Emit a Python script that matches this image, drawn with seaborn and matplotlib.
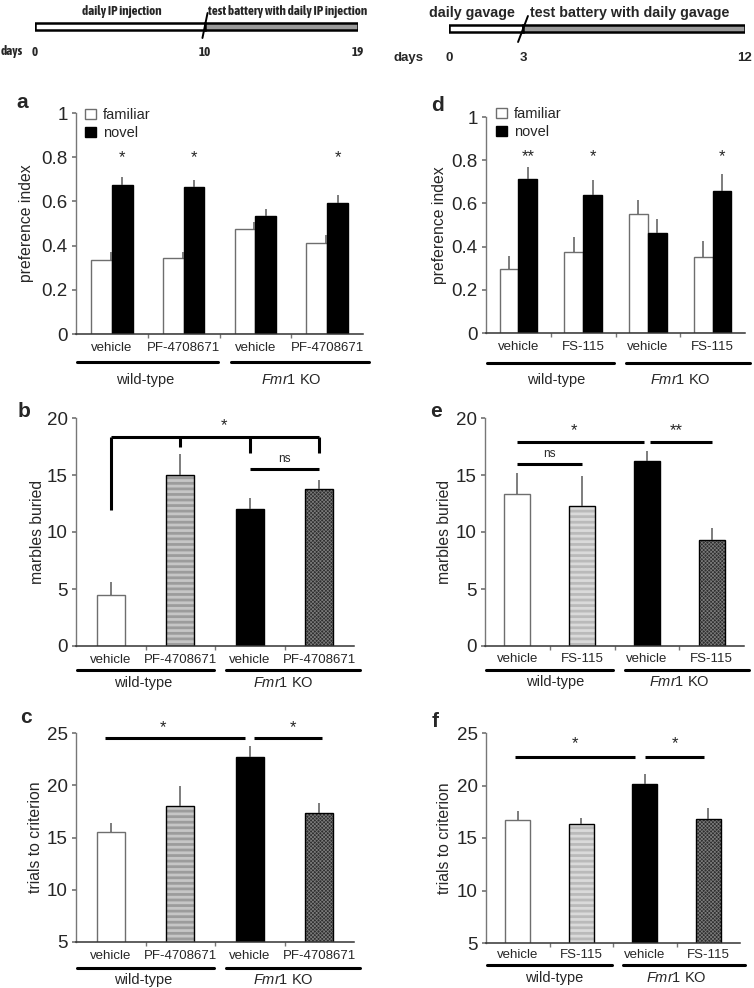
import numpy as np
import pandas as pd
import matplotlib
matplotlib.use('Agg')
import matplotlib.pyplot as plt
import seaborn as sns
from matplotlib.patches import Rectangle
from matplotlib import font_manager as fm

# Data
genotype = ['wild-type', 'wild-type', 'Fmr1 KO', 'Fmr1 KO']
treat_pf = ['vehicle', 'PF-4708671', 'vehicle', 'PF-4708671']
treat_fs = ['vehicle', 'FS-115', 'vehicle', 'FS-115']
objects = ['familiar', 'novel']

# a: novel object recognition (IP injection)
a_familiar = [0.334, 0.342, 0.473, 0.410]
a_familiar_sem = [0.038, 0.030, 0.033, 0.037]
a_novel = [0.673, 0.663, 0.533, 0.595]
a_novel_sem = [0.038, 0.033, 0.033, 0.036]
a_stars = ['*', '*', '', '*']

# d: novel object recognition (gavage)
d_familiar = [0.298, 0.374, 0.549, 0.352]
d_familiar_sem = [0.060, 0.072, 0.066, 0.074]
d_novel = [0.711, 0.637, 0.462, 0.658]
d_novel_sem = [0.058, 0.071, 0.066, 0.077]
d_stars = ['**', '*', '', '*']

# b / e: marble burying
b_marbles = [4.48, 15.0, 12.0, 13.8]
b_sem = [1.10, 1.80, 0.97, 0.78]
e_marbles = [13.37, 12.26, 16.23, 9.34]
e_sem = [1.81, 2.69, 0.85, 1.00]

# c / f: trials to criterion
c_trials = [15.53, 18.02, 22.66, 17.32]
c_sem = [0.89, 1.90, 1.12, 1.02]
f_trials = [16.71, 16.30, 20.19, 16.84]
f_sem = [0.85, 0.57, 0.95, 0.98]

# timelines
ip_days = [0, 10, 19]
gavage_days = [0, 3, 12]

W, H = 754, 988
sns.set_theme(style='ticks')
plt.rcParams['font.family'] = ['Liberation Sans', 'DejaVu Sans']
plt.rcParams['mathtext.fontset'] = 'custom'
plt.rcParams['mathtext.rm'] = 'Liberation Sans'
plt.rcParams['mathtext.it'] = 'Liberation Sans:italic'
plt.rcParams['hatch.linewidth'] = 0.8

fig = plt.figure(figsize=(W / 100, H / 100), dpi=100)
fig.patch.set_facecolor('white')

FMR = r'$\mathit{Fmr1}$ KO'


def add_ax(rect):
    l, t, r, b = rect
    return fig.add_axes([l / W, 1 - b / H, (r - l) / W, (b - t) / H])


def fx(rect, x):
    return (x - rect[0]) / (rect[2] - rect[0])


def fy(rect, y):
    return (rect[3] - y) / (rect[3] - rect[1])


def frame(ax, p):
    ax.add_patch(Rectangle(p.get_xy(), p.get_width(), p.get_height(), fill=False,
                           edgecolor='black', lw=1.0, zorder=p.get_zorder() + 0.1))


def style_bar(ax, p, kind, shade):
    if kind == 'white':
        p.set_facecolor('white'); p.set_edgecolor('#6e6e6e'); p.set_linewidth(1.0)
    elif kind == 'black':
        p.set_facecolor('black'); p.set_edgecolor('black'); p.set_linewidth(1.0)
    elif kind == 'stripe':
        p.set_facecolor(shade[0]); p.set_edgecolor(shade[1]); p.set_linewidth(0)
        p.set_hatch('---')
        if hasattr(p, 'set_hatch_linewidth'):
            p.set_hatch_linewidth(2.0)
        frame(ax, p)
    else:
        p.set_facecolor('#2e2e2e'); p.set_edgecolor('#7c7c7c'); p.set_linewidth(0)
        p.set_hatch('xxxxxxxxx')
        if hasattr(p, 'set_hatch_linewidth'):
            p.set_hatch_linewidth(0.5)
        frame(ax, p)


def style_axis(ax, rect, treats, ylim, yticks, ylabel, ylab_px, lab_off, line_off, grp_off, grp_x):
    ax.set_xlim(-0.5, 3.5)
    ax.set_ylim(*ylim)
    ax.set_yticks(yticks)
    ax.set_yticklabels([f'{t:g}' for t in yticks])
    ax.set_xticks(range(4))
    ax.set_xticklabels(treats, fontsize=9.5)
    ax.set_xticks([0.5, 1.5, 2.5], minor=True)
    ax.tick_params(axis='x', which='major', length=0, pad=lab_off)
    ax.tick_params(axis='x', which='minor', length=3, color='#777777', direction='out')
    ax.tick_params(axis='y', length=3, color='#777777', labelsize=13.5, pad=3)
    ax.set_xlabel('')
    ax.set_ylabel(ylabel, fontsize=11.3)
    ax.yaxis.set_label_coords(fx(rect, ylab_px), 0.5)
    sns.despine(ax=ax)
    ax.spines['left'].set_color('#777777')
    ax.spines['left'].set_linewidth(1.0)
    ax.spines['bottom'].set_color('#333333')
    ax.spines['bottom'].set_linewidth(1.1)
    ax.set_facecolor('none')
    yl = fy(rect, rect[3] + line_off)
    yg = fy(rect, rect[3] + grp_off)
    ax.plot([0.005, 0.495], [yl, yl], transform=ax.transAxes, clip_on=False, color='black', lw=2.2)
    ax.plot([0.54, 1.02], [yl, yl], transform=ax.transAxes, clip_on=False, color='black', lw=2.2)
    ax.text(grp_x[0], yg, 'wild-type', transform=ax.transAxes, ha='center', va='center', fontsize=10.5)
    ax.text(grp_x[1], yg, FMR, transform=ax.transAxes, ha='center', va='center', fontsize=10.5)


def errbars(ax, bars, vals, sem, shift=0.0):
    xs = [p.get_x() + p.get_width() / 2 + shift * p.get_width() for p in bars]
    ax.errorbar(xs, vals, yerr=[np.zeros(len(vals)), sem], fmt='none', ecolor='#5a5a5a',
                elinewidth=1.1, capsize=0, zorder=4)
    return xs


def paired_panel(rect, treats, fam, fam_sem, nov, nov_sem, stars, star_y, fam_shift, leg_px, **kw):
    ax = add_ax(rect)
    keys = [f'{g}|{t}' for g, t in zip(genotype, treats)]
    df = pd.DataFrame({'cond': keys * 2, 'object': ['familiar'] * 4 + ['novel'] * 4,
                       'value': fam + nov})
    sns.barplot(data=df, x='cond', y='value', hue='object', order=keys, hue_order=objects,
                palette={'familiar': 'white', 'novel': 'black'}, width=0.58, gap=0,
                errorbar=None, saturation=1, legend=False, ax=ax)
    fam_bars = list(ax.containers[0])
    nov_bars = list(ax.containers[1])
    for p in fam_bars:
        style_bar(ax, p, 'white', None)
    for p in nov_bars:
        style_bar(ax, p, 'black', None)
    errbars(ax, fam_bars, fam, fam_sem, fam_shift)
    xs = errbars(ax, nov_bars, nov, nov_sem)
    for x, s in zip(xs, stars):
        if s:
            ax.text(x, star_y, s, ha='center', va='center', fontsize=12)
    ax.legend(handles=ax.containers[:2], labels=objects, loc='upper left',
              bbox_to_anchor=(fx(rect, leg_px[0]), fy(rect, leg_px[1])), frameon=False,
              fontsize=10.5, handlelength=0.75, handleheight=0.7, handletextpad=0.5,
              labelspacing=0.3, borderpad=0, borderaxespad=0)
    style_axis(ax, rect, treats, (0, 1), [0, 0.2, 0.4, 0.6, 0.8, 1], 'preference index', **kw)
    return ax


def single_panel(rect, treats, vals, sem, ylim, yticks, ylabel, shade, **kw):
    ax = add_ax(rect)
    keys = [f'{g}|{t}' for g, t in zip(genotype, treats)]
    df = pd.DataFrame({'cond': keys, 'value': vals})
    pal = dict(zip(keys, ['white', shade[0], 'black', '#2e2e2e']))
    sns.barplot(data=df, x='cond', y='value', hue='cond', order=keys, hue_order=keys,
                palette=pal, width=0.4, errorbar=None, saturation=1, legend=False, ax=ax)
    bars = list(ax.patches)
    for p, kind in zip(bars, ['white', 'stripe', 'black', 'check']):
        style_bar(ax, p, kind, shade)
    errbars(ax, bars, vals, sem)
    style_axis(ax, rect, treats, ylim, yticks, ylabel, **kw)
    return ax


def sig_line(ax, x0, x1, y, label=None, lx=None, ly=None, size=12):
    ax.plot([x0, x1], [y, y], color='black', lw=2.2, clip_on=False, solid_capstyle='butt')
    if label:
        ax.text(lx, ly, label, ha='center', va='center', fontsize=size, clip_on=False)


# panel rectangles in pixels: left, top, right, bottom
RA = (76, 113, 363, 334)
RD = (486, 117, 745, 333)
RB = (76, 418, 354, 646)
RE = (485, 418, 744, 646)
RC = (76, 733, 354, 942)
RF = (486, 733, 740, 943)

LEFT_SHADE = ('#9c9c9c', '#c6c6c6')
RIGHT_SHADE = ('#bababa', '#dadada')

ax_a = paired_panel(RA, treat_pf, a_familiar, a_familiar_sem, a_novel, a_novel_sem, a_stars,
                    0.80, 0.45, (85, 108), ylab_px=34, lab_off=6, line_off=28, grp_off=46,
                    grp_x=(0.24, 0.75))
ax_d = paired_panel(RD, treat_fs, d_familiar, d_familiar_sem, d_novel, d_novel_sem, d_stars,
                    0.815, 0.0, (496, 107), ylab_px=447, lab_off=6, line_off=30, grp_off=47,
                    grp_x=(0.27, 0.75))

ax_b = single_panel(RB, treat_pf, b_marbles, b_sem, (0, 20), [0, 5, 10, 15, 20], 'marbles buried',
                    LEFT_SHADE, ylab_px=45, lab_off=6, line_off=24, grp_off=37, grp_x=(0.24, 0.745))
# bracket in b
for x, end in zip(range(4), [11.95, 17.45, 16.9, 16.9]):
    ax_b.plot([x, x], [18.3, end], color='black', lw=2.2, solid_capstyle='butt')
sig_line(ax_b, 0, 3, 18.3, '*', 1.63, 19.3)
sig_line(ax_b, 2, 3, 15.55, 'ns', 2.5, 16.4, size=8.5)

ax_e = single_panel(RE, treat_fs, e_marbles, e_sem, (0, 20), [0, 5, 10, 15, 20], 'marbles buried',
                    RIGHT_SHADE, ylab_px=452, lab_off=5, line_off=24, grp_off=36, grp_x=(0.27, 0.75))
sig_line(ax_e, 0, 1.95, 17.9, '*', 0.87, 18.9)
sig_line(ax_e, 2.05, 3, 17.9, '**', 2.45, 18.9)
sig_line(ax_e, 0, 1, 16.0, 'ns', 0.5, 16.8, size=8.5)

ax_c = single_panel(RC, treat_pf, c_trials, c_sem, (5, 25), [5, 10, 15, 20, 25], 'trials to criterion',
                    LEFT_SHADE, ylab_px=43, lab_off=6, line_off=26, grp_off=38, grp_x=(0.24, 0.745))
sig_line(ax_c, -0.08, 1.93, 24.5, '*', 0.75, 25.5)
sig_line(ax_c, 2.06, 3.04, 24.5, '*', 2.62, 25.5)

ax_f = single_panel(RF, treat_fs, f_trials, f_sem, (5, 25), [5, 10, 15, 20, 25], 'trials to criterion',
                    RIGHT_SHADE, ylab_px=452, lab_off=4, line_off=22, grp_off=35, grp_x=(0.27, 0.75))
sig_line(ax_f, -0.05, 1.85, 22.7, '*', 0.9, 24.0)
sig_line(ax_f, 2.0, 2.93, 22.7, '*', 2.47, 24.0)

# panel letters
for s, x, y in [('a', 22, 108), ('d', 437, 111), ('b', 24, 417), ('e', 436, 417),
                ('c', 26, 723), ('f', 435, 727)]:
    fig.text(x / W, 1 - y / H, s, fontsize=15, fontweight='bold', ha='center', va='baseline')


# narrow bold font for the left timeline, if one is installed
narrow_name = None
for f in fm.fontManager.ttflist:
    if ('Narrow' in f.name or 'Condensed' in f.name) and f.weight in ('bold', 700):
        narrow_name = f.name
        break
if narrow_name:
    narrow, narrow_size = [narrow_name, 'Liberation Sans'], 9.4
else:
    narrow, narrow_size = ['Liberation Sans', 'DejaVu Sans'], 7.6


def timeline(rect, days, left_txt, right_txt, left_x, right_x, bar_y, txt_y, day_y, days_x,
             fam, size, day_size, slash):
    ax = add_ax(rect)
    ax.set_xlim(days[0], days[-1])
    ax.set_ylim(rect[3] - rect[1], 0)
    ax.axis('off')
    ax.barh([bar_y, bar_y], np.diff(days), left=days[:-1], height=7,
            color=['white', '#9a9a9a'], edgecolor='black', lw=1.8)
    ax.plot(slash[0], slash[1], color='black', lw=1.4, clip_on=False)
    ax.text(left_x, txt_y, left_txt, ha='center', va='center', fontsize=size,
            fontweight='bold', family=fam)
    ax.text(right_x, txt_y, right_txt, ha='left', va='center', fontsize=size,
            fontweight='bold', family=fam)
    ax.text(days_x, day_y, 'days', ha='left', va='center', fontsize=day_size,
            fontweight='bold', family=fam, clip_on=False)
    for d in days:
        ax.text(d, day_y, str(d), ha='center', va='center', fontsize=day_size,
                fontweight='bold', family=fam, clip_on=False)


timeline((35, 0, 358, 70), ip_days, 'daily IP injection', 'test battery with daily IP injection',
         5.1, 10.15, 26.5, 11, 52, -2.0, narrow, narrow_size, narrow_size, ([10.15, 9.85], [13, 38]))
timeline((449, 0, 745, 70), gavage_days, 'daily gavage', 'test battery with daily gavage',
         0.95, 3.3, 28.5, 13, 58, -2.25, ['Liberation Sans', 'DejaVu Sans'], 10.3, 9.5,
         ([3.2, 2.8], [16, 42]))

fig.savefig('out.png', dpi=100)
